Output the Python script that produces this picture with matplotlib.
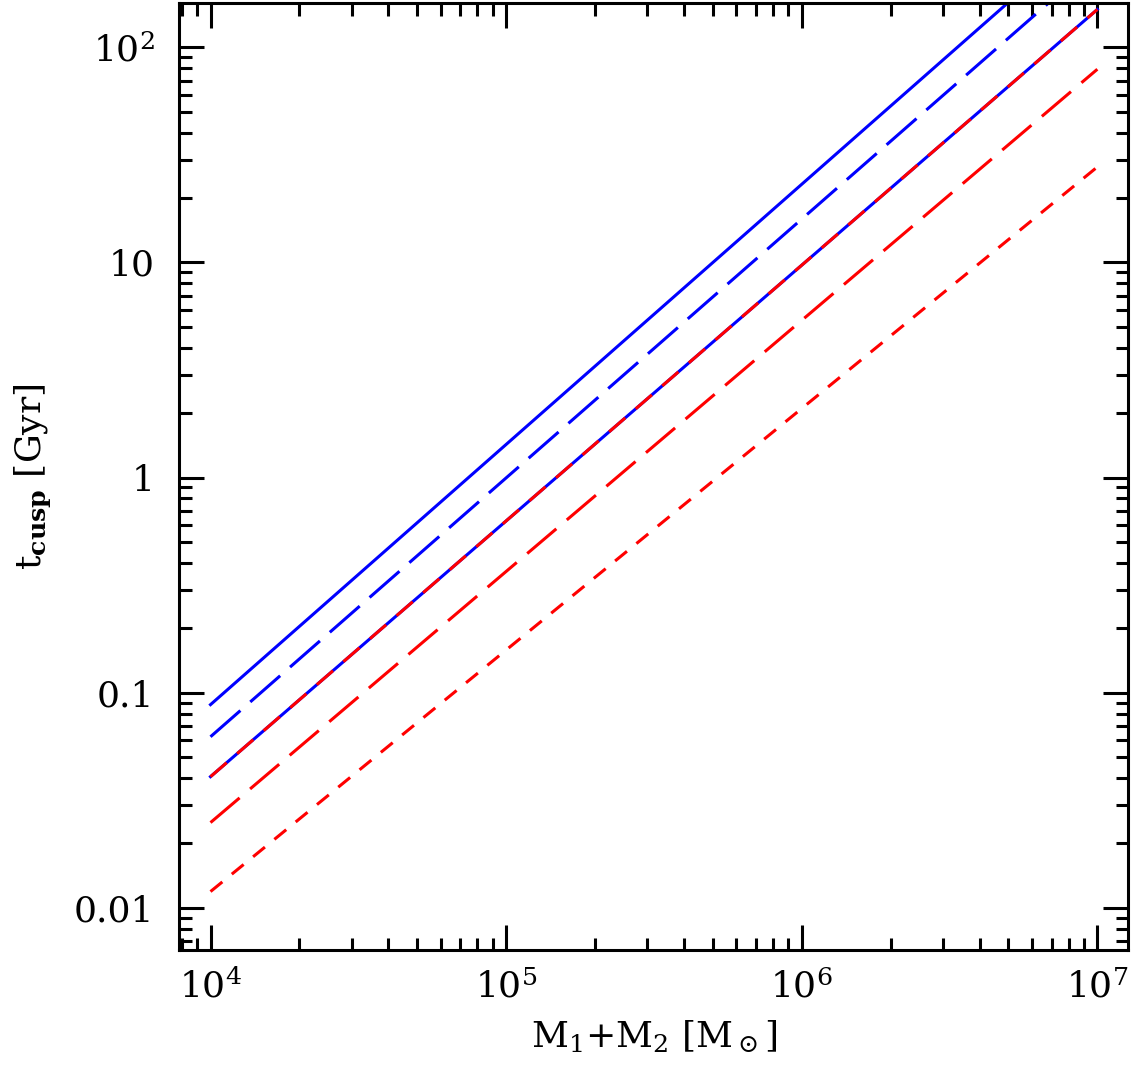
import matplotlib
matplotlib.use("Agg")
import matplotlib.pyplot as plt
import matplotlib.ticker as mticker

plt.rcParams['font.family'] = ['DejaVu Serif']
plt.rcParams['mathtext.fontset'] = 'dejavuserif'

# total binary mass [Msun] at the two ends of each power law
mass = [1e4, 1e7]
# cusp regrowth time [Gyr] read at the ends
t_blue_solid = [0.0880, 374.0]
t_blue_dash = [0.0624, 254.0]
t_mixed = [0.0407, 150.0]
t_red_dash = [0.0249, 79.1]
t_red_short = [0.0119, 27.8]

xticks = [1e4, 1e5, 1e6, 1e7]
xticklabels = ['10$^4$', '10$^5$', '10$^6$', '10$^7$']
yticks = [0.01, 0.1, 1, 10, 100]
yticklabels = ['0.01', '0.1', '1', '10', '10$^2$']

fig = plt.figure(figsize=(11.32, 10.69), dpi=100)
ax = fig.add_axes([0.1585, 0.1115, 0.838, 0.8853])

lw = 2.2
ax.plot(mass, t_blue_solid, '-', color='blue', lw=lw)
ax.plot(mass, t_blue_dash, color='blue', lw=lw, dashes=(13, 4.3))
ax.plot(mass, t_mixed, '-', color='blue', lw=lw)
ax.plot(mass, t_mixed, color='red', lw=lw, dashes=(7, 4.5))
ax.plot(mass, t_red_dash, color='red', lw=lw, dashes=(12.5, 4.5))
ax.plot(mass, t_red_short, color='red', lw=lw, dashes=(5, 4))

ax.set_xscale('log')
ax.set_yscale('log')
ax.set_xlim(7850, 1.27e7)
ax.set_ylim(0.00638, 160)

ax.xaxis.set_major_locator(mticker.FixedLocator(xticks))
ax.xaxis.set_major_formatter(mticker.FixedFormatter(xticklabels))
ax.yaxis.set_major_locator(mticker.FixedLocator(yticks))
ax.yaxis.set_major_formatter(mticker.FixedFormatter(yticklabels))
ax.xaxis.set_minor_locator(mticker.LogLocator(base=10, subs=range(2, 10), numticks=20))
ax.yaxis.set_minor_locator(mticker.LogLocator(base=10, subs=range(2, 10), numticks=20))
ax.xaxis.set_minor_formatter(mticker.NullFormatter())
ax.yaxis.set_minor_formatter(mticker.NullFormatter())

for s in ax.spines.values():
    s.set_linewidth(2.2)
ax.tick_params(which='both', direction='in', top=True, right=True, width=2.2)
ax.tick_params(which='major', length=18, labelsize=26)
ax.tick_params(which='minor', length=9)
ax.tick_params(axis='x', which='major', pad=14)
ax.tick_params(axis='y', which='major', pad=18)

ax.set_xlabel('M$_1$+M$_2$ [M$_\\odot$]', fontsize=26, labelpad=10)
ax.set_ylabel('t$_{\\mathbf{cusp}}$ [Gyr]', fontsize=26, labelpad=14)

fig.savefig('out.png', dpi=100)
